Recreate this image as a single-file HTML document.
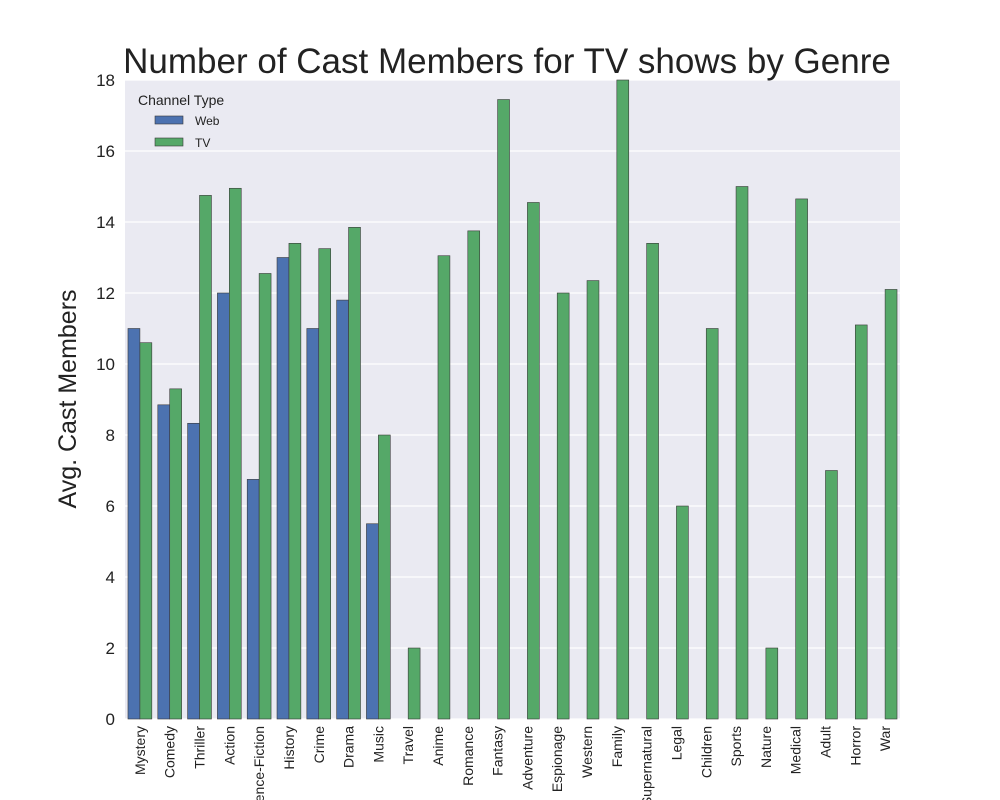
<!DOCTYPE html>
<html><head><meta charset="utf-8"><style>
body{margin:0;background:#fff;}
svg{display:block;font-family:"Liberation Sans",Arial,sans-serif;}
</style></head><body>
<svg id="chart" width="1000" height="800"></svg>
<script>
const categories=["Mystery","Comedy","Thriller","Action","Science-Fiction","History","Crime","Drama","Music","Travel","Anime","Romance","Fantasy","Adventure","Espionage","Western","Family","Supernatural","Legal","Children","Sports","Nature","Medical","Adult","Horror","War"];
const webValues=[11,8.85,8.33,12,6.75,13,11,11.8,5.5,null,null,null,null,null,null,null,null,null,null,null,null,null,null,null,null,null];
const tvValues=[10.6,9.3,14.75,14.95,12.55,13.4,13.25,13.85,8,2,13.05,13.75,17.45,14.55,12,12.35,18,13.4,6,11,15,2,14.65,7,11.1,12.1];
const yTicks=[0,2,4,6,8,10,12,14,16,18];

const NS="http://www.w3.org/2000/svg";
const svg=document.getElementById('chart');
const X0=125,X1=900,Y0=80,Y1=719,YMAX=18;
const n=categories.length;
const step=(X1-X0)/n;
function xc(i){return X0+step*(i+0.5);}
function y(v){return Y1-(v/YMAX)*(Y1-Y0);}
function mk(tag,attrs){const e=document.createElementNS(NS,tag);for(const k in attrs)e.setAttribute(k,attrs[k]);svg.appendChild(e);return e;}

let bg=mk('rect',{x:X0,y:Y0,width:X1-X0,height:Y1-Y0,fill:'#eaeaf2'});


yTicks.forEach(t=>{
  let g=mk('line',{x1:X0,x2:X1,y1:y(t),y2:y(t),stroke:'#fff','stroke-width':1.2});
  
  
  let tx=mk('text',{x:X0-10,y:y(t)+6,'text-anchor':'end','font-size':17,fill:'#222'});
  tx.textContent=t;
  
  
});
const bw=step*0.4;
for(let i=0;i<n;i++){
  const wv=webValues[i];
  if(wv!=null){
    let r=mk('rect',{x:xc(i)-bw,y:y(wv),width:bw,height:Y1-y(wv),fill:'#4c72b0',stroke:'#3a3a3a','stroke-width':0.6});
    
    
  }
  const tvv=tvValues[i];
  if(tvv!=null){
    let r=mk('rect',{x:xc(i),y:y(tvv),width:bw,height:Y1-y(tvv),fill:'#55a868',stroke:'#3a3a3a','stroke-width':0.6});
    
    
  }
  let t=mk('text',{x:0,y:0,'text-anchor':'end','font-size':14,fill:'#222',transform:`translate(${xc(i)+5},726) rotate(-90)`});
  t.textContent=categories[i];
  
  
}
let title=mk('text',{x:507,y:73,'text-anchor':'middle','font-size':35,fill:'#222'});
title.textContent='Number of Cast Members for TV shows by Genre';


let yl=mk('text',{x:0,y:0,'text-anchor':'middle','font-size':25,fill:'#222',transform:'translate(76,399) rotate(-90)'});
yl.textContent='Avg. Cast Members';


let lt=mk('text',{x:138,y:105,'font-size':14,fill:'#222'});
lt.textContent='Channel Type';


[['Web','#4c72b0',116],['TV','#55a868',138]].forEach(([s,c,yy])=>{
  let p=mk('rect',{x:155,y:yy,width:28,height:8,fill:c,stroke:'#3a3a3a','stroke-width':0.6});
  
  
  let t=mk('text',{x:195,y:yy+9,'font-size':12,fill:'#222'});
  t.textContent=s;
  
  
});
</script>
</body></html>
